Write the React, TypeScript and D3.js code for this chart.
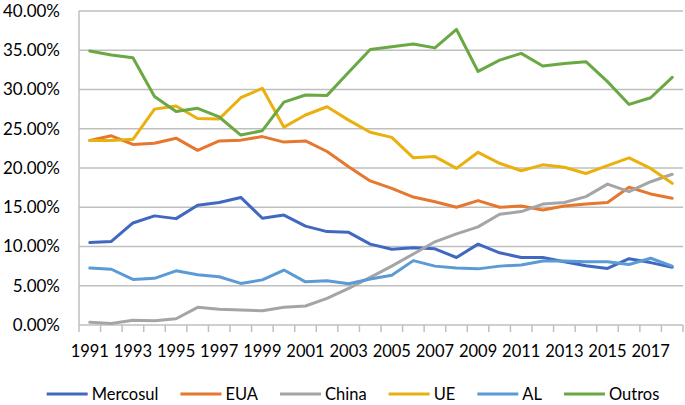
import React, { useEffect, useRef } from 'react';
import * as d3 from 'd3';

const years = d3.range(1991, 2019);

const mercosul = [10.5, 10.65, 13.0, 13.9, 13.55, 15.25, 15.6, 16.25, 13.6, 14.0, 12.6, 11.9, 11.8, 10.3, 9.65, 9.85, 9.7, 8.6, 10.3, 9.2, 8.6, 8.6, 8.05, 7.55, 7.2, 8.45, 7.95, 7.35];
const eua = [23.5, 24.1, 23.0, 23.15, 23.8, 22.25, 23.45, 23.55, 24.0, 23.3, 23.45, 22.1, 20.15, 18.35, 17.4, 16.3, 15.7, 15.0, 15.85, 15.0, 15.15, 14.65, 15.15, 15.4, 15.6, 17.55, 16.7, 16.15];
const china = [0.34, 0.2, 0.6, 0.55, 0.8, 2.25, 2.0, 1.9, 1.82, 2.25, 2.42, 3.4, 4.67, 6.07, 7.5, 9.05, 10.6, 11.6, 12.5, 14.1, 14.45, 15.4, 15.6, 16.35, 17.95, 17.0, 18.25, 19.2];
const ue = [23.5, 23.5, 23.65, 27.5, 27.9, 26.3, 26.25, 28.95, 30.15, 25.2, 26.75, 27.8, 26.1, 24.55, 23.9, 21.3, 21.45, 19.95, 22.0, 20.6, 19.65, 20.4, 20.1, 19.3, 20.3, 21.3, 19.95, 18.05];
const al = [7.25, 7.1, 5.8, 5.95, 6.9, 6.4, 6.15, 5.3, 5.75, 7.0, 5.5, 5.65, 5.25, 5.85, 6.35, 8.2, 7.5, 7.25, 7.15, 7.5, 7.65, 8.15, 8.15, 8.05, 8.05, 7.7, 8.5, 7.5];
const outros = [34.9, 34.4, 34.05, 29.1, 27.2, 27.6, 26.5, 24.2, 24.75, 28.4, 29.3, 29.25, 32.2, 35.1, 35.45, 35.8, 35.3, 37.65, 32.3, 33.75, 34.6, 33.0, 33.3, 33.55, 31.0, 28.1, 28.95, 31.55];

const seriesNames = ['Mercosul', 'EUA', 'China', 'UE', 'AL', 'Outros'];
const seriesValues = [mercosul, eua, china, ue, al, outros];
const colors = ['#4068C0', '#E5772E', '#A5A5A5', '#E9B00E', '#5B9BD5', '#6AA843'];
const yTicks = [0, 5, 10, 15, 20, 25, 30, 35, 40];

export default function App() {
    const svgRef = useRef<SVGSVGElement>(null);
    const W = 685,
        H = 405;
    const margin = { top: 11, right: 2, bottom: 80, left: 79 };
    const width = W - margin.left - margin.right,
        height = H - margin.top - margin.bottom;

    useEffect(() => {
        const root = d3.select(svgRef.current);
        root.selectAll('*').remove();
        const font = 'Lato, "Open Sans", sans-serif';

        const svg = root.append('g').attr('transform', `translate(${margin.left}, ${margin.top})`);

        const x = d3.scaleBand<number>().domain(years).range([0, width]);
        const y = d3.scaleLinear().domain([0, 40]).range([height, 0]);

        // gridlines
        svg.append('g')
            .selectAll('line')
            .data(yTicks)
            .join('line')
            .attr('x1', 0)
            .attr('x2', width)
            .attr('y1', (d) => y(d))
            .attr('y2', (d) => y(d))
            .attr('stroke', '#BFBFBF')
            .attr('stroke-width', 1.5);

        // y labels
        svg.append('g')
            .selectAll('text')
            .data(yTicks)
            .join('text')
            .attr('x', -19)
            .attr('y', (d) => y(d))
            .attr('dy', '0.35em')
            .attr('text-anchor', 'end')
            .attr('font-family', font)
            .attr('font-size', 17)
            .attr('fill', '#000')
            .text((d) => d3.format('.2f')(d) + '%');

        // y axis line
        svg.append('line')
            .attr('x1', 0)
            .attr('x2', 0)
            .attr('y1', 0)
            .attr('y2', height)
            .attr('stroke', '#BFBFBF')
            .attr('stroke-width', 1.5);

        // x ticks between categories
        const tickPos = years.map((d) => x(d) as number).concat([width]);
        svg.append('g')
            .selectAll('line')
            .data(tickPos)
            .join('line')
            .attr('x1', (d) => d)
            .attr('x2', (d) => d)
            .attr('y1', height)
            .attr('y2', height + 7)
            .attr('stroke', '#BFBFBF')
            .attr('stroke-width', 1.5);

        // x labels every other year
        svg.append('g')
            .selectAll('text')
            .data(years.filter((d) => (d - 1991) % 2 === 0))
            .join('text')
            .attr('x', (d) => (x(d) as number) + x.bandwidth() / 2)
            .attr('y', height + 32)
            .attr('text-anchor', 'middle')
            .attr('font-family', font)
            .attr('font-size', 16.5)
            .attr('fill', '#000')
            .text((d) => d);

        // lines
        const line = d3
            .line<number>()
            .x((_, i) => (x(years[i]) as number) + x.bandwidth() / 2)
            .y((d) => y(d));

        svg.append('g')
            .selectAll('path')
            .data(seriesValues)
            .join('path')
            .attr('d', (d) => line(d))
            .attr('fill', 'none')
            .attr('stroke', (_, i) => colors[i])
            .attr('stroke-width', 3)
            .attr('stroke-linejoin', 'round')
            .attr('stroke-linecap', 'round');

        // legend
        const legend = root.append('g');
        let cursor = 0;
        seriesNames.forEach((name, i) => {
            const g = legend.append('g');
            g.append('line')
                .attr('x1', 0)
                .attr('x2', 41)
                .attr('y1', 0)
                .attr('y2', 0)
                .attr('stroke', colors[i])
                .attr('stroke-width', 3);
            const t = g
                .append('text')
                .attr('x', 45)
                .attr('y', 0)
                .attr('dy', '0.35em')
                .attr('font-family', font)
                .attr('font-size', 16.5)
                .attr('fill', '#000')
                .text(name);
            const tw = (t.node() as SVGTextElement).getComputedTextLength();
            g.attr('transform', `translate(${cursor}, 0)`);
            cursor += 45 + tw + 22;
        });
        const total = cursor - 22;
        legend.attr('transform', `translate(${353 - total / 2}, 394)`);
        //eslint-disable-next-line
    }, []);

    return (
        <div style={{ position: 'absolute', left: 0, top: 0 }}>
            <svg ref={svgRef} width={W} height={H} style={{ display: 'block', background: '#fff' }} />
        </div>
    );
}
